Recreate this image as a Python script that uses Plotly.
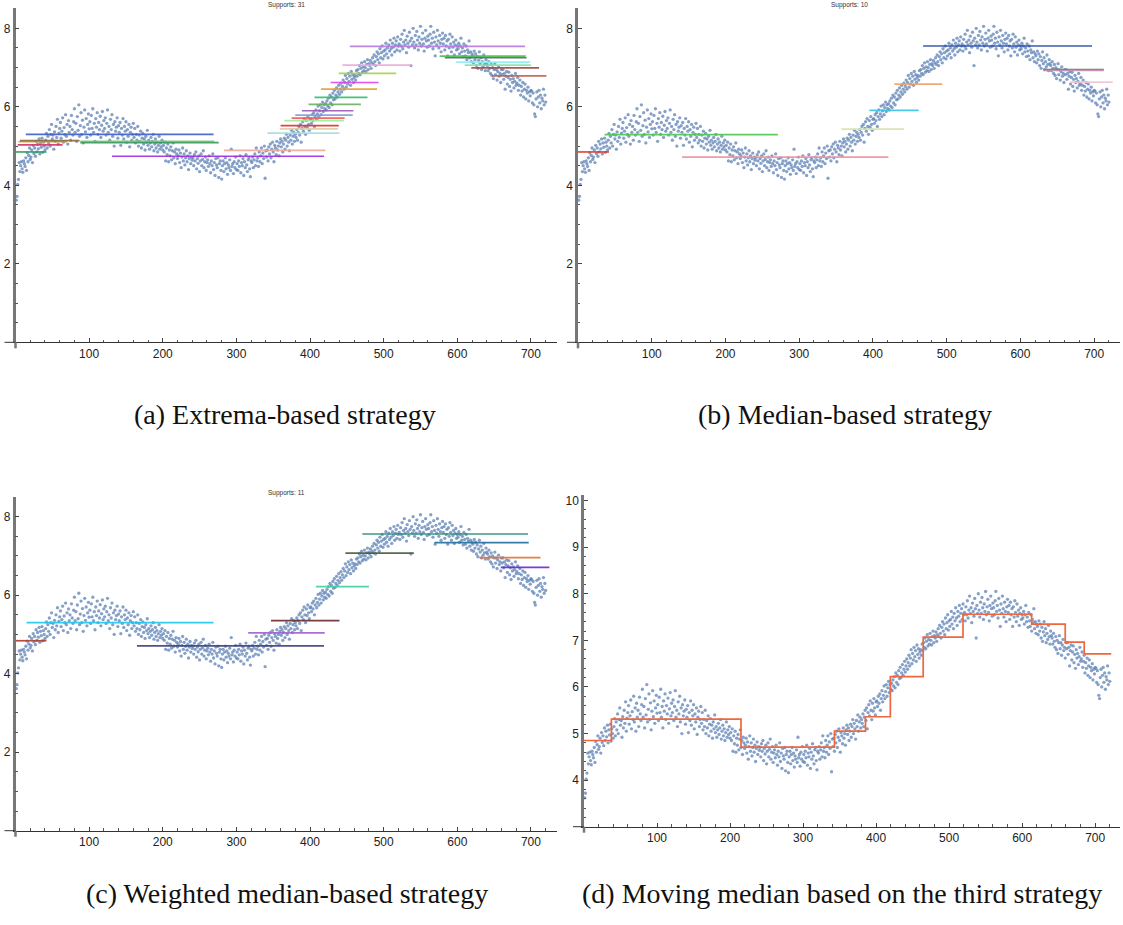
import plotly.graph_objects as go

# ---------------- data ----------------
x_vals = list(range(1, 721))
y_vals = [
 3.62, 3.72, 4.02, 4.15, 4.58, 4.35, 4.5, 4.6, 4.42, 4.33, 4.62, 4.55, 4.48, 4.7, 4.38, 4.83, 4.6, 4.76, 4.95, 4.66,
 4.72, 4.9, 4.58, 5.02, 4.81, 4.95, 4.74, 5.12, 4.85, 5.05, 4.93, 5.18, 4.8, 5.08, 4.97, 5.2, 4.84, 5.1, 5.0, 4.9,
 5.15, 5.32, 4.95, 5.25, 5.08, 5.42, 5.0, 5.3, 5.55, 5.18, 5.28, 4.92, 5.36, 5.12, 5.5, 5.22, 5.68, 5.05, 5.33, 5.45,
 5.6, 5.2, 5.38, 5.72, 5.1, 5.47, 5.3, 5.8, 5.25, 5.55, 5.05, 5.65, 5.35, 5.5, 5.15, 5.78, 5.42, 5.28, 5.62, 5.95,
 5.35, 5.58, 5.12, 5.75, 5.4, 6.05, 5.25, 5.52, 5.85, 5.3, 5.66, 5.08, 5.48, 5.92, 5.36, 5.7, 5.22, 5.55, 5.82, 5.44,
 5.62, 5.28, 5.78, 5.45, 5.95, 5.35, 5.58, 5.12, 5.7, 5.48, 5.85, 5.3, 5.6, 5.42, 5.76, 5.22, 5.53, 5.88, 5.38, 5.65,
 5.45, 5.72, 5.28, 5.58, 5.92, 5.35, 5.5, 5.15, 5.68, 5.42, 5.8, 5.25, 5.55, 5.0, 5.62, 5.38, 5.48, 5.72, 5.2, 5.52,
 5.35, 5.6, 5.02, 5.45, 5.28, 5.7, 5.18, 5.5, 5.38, 5.62, 5.1, 5.42, 5.25, 5.55, 4.98, 5.35, 5.48, 5.15, 5.3, 5.58,
 5.22, 5.45, 5.08, 5.3, 5.15, 5.5, 5.0, 5.28, 5.12, 5.38, 4.95, 5.2, 5.32, 5.05, 5.18, 4.9, 5.25, 5.1, 5.4, 5.02,
 5.15, 4.92, 5.08, 5.22, 4.98, 5.12, 5.3, 4.88, 5.05, 5.18, 4.95, 5.1, 4.85, 5.02, 5.25, 4.92, 5.08, 4.98, 5.15, 4.9,
 5.02, 4.85, 5.1, 4.62, 4.95, 4.78, 5.05, 4.6, 4.9, 4.75, 4.98, 4.65, 4.88, 5.08, 4.7, 4.85, 4.55, 4.92, 4.8, 4.68,
 4.75, 4.9, 4.58, 4.82, 4.45, 4.72, 4.95, 4.62, 4.8, 4.52, 4.7, 4.88, 4.6, 4.75, 4.4, 4.68, 4.82, 4.55, 4.72, 4.64,
 4.7, 4.5, 4.78, 4.62, 4.85, 4.42, 4.68, 4.56, 4.75, 4.35, 4.62, 4.8, 4.5, 4.66, 4.88, 4.45, 4.6, 4.72, 4.38, 4.58,
 4.65, 4.48, 4.75, 4.55, 4.32, 4.62, 4.5, 4.8, 4.4, 4.58, 4.25, 4.68, 4.52, 4.45, 4.7, 4.2, 4.55, 4.62, 4.38, 4.16,
 4.5, 4.62, 4.35, 4.55, 4.7, 4.42, 4.58, 4.28, 4.52, 4.45, 4.65, 4.38, 4.92, 4.48, 4.55, 4.3, 4.6, 4.45, 4.72, 4.4,
 4.55, 4.38, 4.62, 4.48, 4.75, 4.32, 4.58, 4.5, 4.68, 4.25, 4.6, 4.45, 4.78, 4.52, 4.35, 4.65, 4.7, 4.42, 4.22, 4.62,
 4.58, 4.72, 4.45, 4.65, 4.8, 4.5, 4.95, 4.62, 4.7, 4.48, 4.85, 4.6, 4.75, 4.95, 4.55, 4.82, 4.68, 5.0, 4.18, 4.88,
 4.72, 4.9, 4.62, 4.98, 4.8, 5.05, 4.7, 4.92, 5.1, 4.85, 4.6, 5.02, 4.95, 4.78, 5.12, 4.9, 5.0, 4.75, 5.08, 5.18,
 4.98, 5.12, 4.85, 5.05, 5.2, 4.92, 5.15, 5.3, 5.0, 5.22, 5.1, 4.88, 5.28, 5.15, 5.4, 5.05, 5.25, 5.35, 5.12, 5.3,
 5.22, 5.42, 5.15, 5.35, 5.5, 5.28, 5.55, 5.1, 5.45, 5.62, 5.38, 5.7, 5.5, 5.3, 5.65, 5.48, 5.75, 5.55, 5.4, 5.68,
 5.7, 5.58, 5.8, 5.65, 5.85, 5.5, 5.75, 5.92, 5.68, 5.82, 6.02, 5.75, 5.9, 6.05, 5.8, 5.98, 6.12, 5.88, 6.05, 5.95,
 6.08, 5.92, 6.15, 6.02, 6.22, 5.98, 6.3, 6.1, 6.25, 6.05, 6.35, 6.18, 6.42, 6.2, 6.3, 6.48, 6.25, 6.38, 6.55, 6.32,
 6.45, 6.6, 6.38, 6.52, 6.68, 6.45, 6.62, 6.8, 6.5, 6.72, 6.58, 6.85, 6.65, 6.78, 6.55, 6.9, 6.7, 6.82, 6.62, 6.75,
 6.8, 6.68, 6.92, 6.78, 6.95, 6.85, 7.05, 6.82, 6.98, 7.12, 6.88, 7.02, 6.92, 7.15, 7.0, 6.9, 7.08, 7.2, 6.95, 7.1,
 7.05, 7.18, 6.98, 7.12, 7.25, 7.08, 7.32, 7.15, 7.05, 7.28, 7.4, 7.2, 7.35, 7.12, 7.48, 7.25, 7.38, 7.55, 7.22, 7.42,
 7.3, 7.45, 7.62, 7.35, 7.5, 7.25, 7.58, 7.42, 7.7, 7.48, 7.32, 7.62, 7.52, 7.75, 7.4, 7.58, 7.68, 7.45, 7.78, 7.55,
 7.6, 7.42, 7.72, 7.55, 7.85, 7.48, 7.65, 7.95, 7.58, 7.7, 7.38, 7.8, 7.62, 7.52, 7.9, 7.68, 7.05, 7.75, 7.58, 8.0,
 7.65, 7.5, 7.82, 7.58, 7.92, 7.7, 7.45, 7.78, 7.62, 8.05, 7.55, 7.72, 7.88, 7.6, 7.42, 7.75, 7.95, 7.68, 7.52, 7.8,
 7.7, 7.55, 7.85, 8.05, 7.62, 7.75, 7.48, 7.9, 7.65, 7.3, 7.78, 7.58, 7.95, 7.68, 7.5, 7.82, 7.62, 7.4, 7.72, 7.88,
 7.6, 7.75, 7.45, 7.82, 7.55, 7.68, 7.3, 7.72, 7.5, 7.85, 7.6, 7.4, 7.78, 7.52, 7.65, 7.32, 7.58, 7.7, 7.45, 7.55,
 7.48, 7.62, 7.35, 7.55, 7.75, 7.4, 7.5, 7.28, 7.6, 7.42, 7.3, 7.55, 7.2, 7.45, 7.38, 7.68, 7.25, 7.4, 7.15, 7.35,
 7.3, 7.12, 7.42, 7.2, 7.35, 7.05, 7.28, 6.98, 7.18, 7.4, 7.1, 7.25, 6.95, 7.15, 7.02, 7.32, 7.08, 6.92, 7.2, 7.1,
 7.05, 6.92, 7.15, 6.98, 6.85, 7.08, 6.8, 7.0, 6.72, 6.95, 7.1, 6.82, 6.95, 6.68, 6.9, 7.02, 6.78, 6.85, 6.62, 6.95,
 6.82, 6.95, 6.7, 6.85, 6.45, 6.78, 6.9, 6.58, 6.75, 6.88, 6.52, 6.7, 6.4, 6.8, 6.62, 6.72, 6.48, 6.65, 6.85, 6.55,
 6.6, 6.75, 6.42, 6.55, 6.68, 6.3, 6.52, 6.4, 6.62, 6.25, 6.45, 6.58, 6.2, 6.42, 6.35, 6.5, 6.15, 6.38, 6.28, 6.42,
 6.4, 6.1, 6.35, 6.05, 5.82, 5.75, 6.2, 6.38, 6.0, 6.25, 6.42, 6.1, 6.3, 5.95, 6.22, 6.15, 6.45, 6.05, 6.3, 6.12,
]

# (a) extrema-based supports: start, end, level
seg_a_start = [0, 3, 4, 6, 14, 88, 88, 131, 283, 342, 359, 360, 365, 375, 380, 389, 398, 406, 415, 428,
               439, 444, 454, 576, 583, 598, 610, 619, 647]
seg_a_end = [42, 64, 70, 87, 269, 270, 276, 419, 421, 440, 438, 439, 446, 447, 458, 459, 469, 478, 491, 493,
             517, 538, 692, 693, 694, 699, 700, 711, 721]
seg_a_level = [4.85, 5.03, 5.11, 5.14, 5.30, 5.12, 5.09, 4.74, 4.89, 5.33, 5.44, 5.52, 5.65, 5.71, 5.79, 5.90,
               6.06, 6.24, 6.45, 6.62, 6.85, 7.06, 7.54, 7.29, 7.25, 7.14, 7.06, 6.99, 6.79]

# (b) median-based supports
seg_b_start = [0, 36, 141, 357, 395, 429, 468, 631, 631, 667]
seg_b_end = [42, 271, 421, 442, 462, 494, 697, 713, 713, 725]
seg_b_level = [4.85, 5.29, 4.72, 5.43, 5.91, 6.58, 7.55, 6.95, 6.93, 6.63]

# (c) weighted-median-based supports
seg_c_start = [0, 15, 165, 316, 347, 408, 448, 471, 569, 630, 659]
seg_c_end = [42, 269, 419, 420, 440, 480, 541, 696, 697, 713, 725]
seg_c_level = [4.84, 5.30, 4.71, 5.04, 5.35, 6.22, 7.07, 7.56, 7.34, 6.96, 6.71]

# (d) moving median step function
step_x = [0, 37.5, 215, 343, 385.5, 419.5, 464.5, 519, 613, 659, 685, 722]
step_y = [4.85, 5.31, 4.71, 5.05, 5.36, 6.22, 7.07, 7.56, 7.35, 6.96, 6.71, 6.71]

supports_text = ["Supports: 31", "Supports: 10", "Supports: 11"]
captions = ["(a) Extrema-based strategy", "(b) Median-based strategy",
            "(c) Weighted median-based strategy", "(d) Moving median based on the third strategy"]

# ---------------- styles ----------------
colors_a = ["#2E9E5B", "#D6336C", "#D8A040", "#8B6B35", "#3F5FC8", "#7BCB7B", "#3A9A5A", "#A22BE0",
            "#F0A898", "#A8DCDC", "#DCCCA8", "#E0302A", "#98F098", "#F05A5A", "#8A98D8", "#9A5AB8",
            "#6CB060", "#2CC06A", "#E0A030", "#E040F0", "#A8D048", "#F0A8D8", "#B878E0", "#48C048",
            "#506878", "#88F0F0", "#88E0A8", "#9C4A3E", "#C0604E"]
colors_b = ["#E03A2A", "#4CC84C", "#F0909C", "#D4E4A8", "#38C4E4", "#F0A060", "#2848A8", "#5E7030",
            "#C890C0", "#F0C4D4"]
colors_c = ["#B03A2E", "#1EC8F0", "#403F7A", "#A060D0", "#6B2A2A", "#40D0A0", "#4A5A3A", "#2E8B7A",
            "#2070A0", "#E87030", "#6A2AD0"]

W, H = 1123, 925
PT = "rgba(94,129,181,0.75)"

def fx(p):
    return p / W

def fy(p):
    return 1 - p / H

# panel geometry in pixels: x-domain (left,right), y-domain (top,bottom)
geo = [
    dict(xd=(15.5, 556.7), yd=(8.3, 342.3), xr=[0, 735], yr=[0, 8.51]),
    dict(xd=(578, 1120), yd=(8.3, 342.3), xr=[0, 735], yr=[0, 8.51]),
    dict(xd=(15.5, 556.7), yd=(496.7, 830.7), xr=[0, 735], yr=[0, 8.51]),
    dict(xd=(584, 1120), yd=(495, 826.7), xr=[0, 734], yr=[3, 10.12]),
]

fig = go.Figure()
tickfont = dict(family="Liberation Sans, Arial", size=12, color="#222")

layout = dict(width=W, height=H, margin=dict(l=0, r=0, t=0, b=0),
              paper_bgcolor="white", plot_bgcolor="white", showlegend=False)
shapes = []
annotations = []

for i, g in enumerate(geo):
    k = "" if i == 0 else str(i + 1)
    xa, ya = "x" + k, "y" + k
    if i < 3:
        ytv = [2, 4, 6, 8]
        ymin = 0.5
    else:
        ytv = [4, 5, 6, 7, 8, 9, 10]
        ymin = 0.2
    layout["xaxis" + k] = dict(
        domain=[fx(g["xd"][0]), fx(g["xd"][1])], range=g["xr"], anchor=ya,
        showline=True, linecolor="#333", linewidth=1, mirror=False,
        ticks="inside", ticklen=4, tickcolor="#444", tickwidth=1,
        tickvals=[100, 200, 300, 400, 500, 600, 700],
        minor=dict(dtick=20, tick0=0, ticks="inside", ticklen=2.5, tickcolor="#555"),
        showgrid=False, zeroline=False, tickfont=tickfont, automargin=False, fixedrange=True)
    layout["yaxis" + k] = dict(
        domain=[fy(g["yd"][1]), fy(g["yd"][0])], range=g["yr"], anchor=xa,
        showline=True, linecolor="#777777", linewidth=2.5, mirror=False,
        ticks="inside", ticklen=4, tickcolor="#444", tickwidth=1,
        tickvals=ytv,
        minor=dict(dtick=ymin, tick0=0, ticks="inside", ticklen=2.5, tickcolor="#555"),
        showgrid=False, zeroline=False, tickfont=tickfont, automargin=False, fixedrange=True)
    # axis overhangs (Mathematica-style crossing)
    shapes.append(dict(type="line", xref="paper", yref="paper",
                       x0=fx(g["xd"][0] - 11), x1=fx(g["xd"][0]),
                       y0=fy(g["yd"][1]), y1=fy(g["yd"][1]),
                       line=dict(color="#333", width=1)))
    shapes.append(dict(type="line", xref="paper", yref="paper",
                       x0=fx(g["xd"][0]), x1=fx(g["xd"][0]),
                       y0=fy(g["yd"][1]), y1=fy(g["yd"][1] + 6),
                       line=dict(color="#777777", width=2.5)))

    # scatter points
    fig.add_trace(go.Scatter(x=x_vals, y=y_vals, mode="markers", xaxis=xa, yaxis=ya,
                             marker=dict(size=3.3, color=PT, line=dict(width=0)),
                             hoverinfo="skip"))

    if i < 3:
        st, en, lv, cl = [(seg_a_start, seg_a_end, seg_a_level, colors_a),
                          (seg_b_start, seg_b_end, seg_b_level, colors_b),
                          (seg_c_start, seg_c_end, seg_c_level, colors_c)][i]
        for s, e, v, c in zip(st, en, lv, cl):
            fig.add_trace(go.Scatter(x=[s, e], y=[v, v], mode="lines", xaxis=xa, yaxis=ya,
                                     line=dict(color=c, width=1.7), opacity=0.9,
                                     hoverinfo="skip"))
        annotations.append(dict(text=supports_text[i], xref="paper", yref="paper",
                                x=fx((g["xd"][0] + g["xd"][1]) / 2), y=fy(g["yd"][0] - 3.5),
                                xanchor="center", yanchor="middle", showarrow=False,
                                font=dict(family="Liberation Sans, Arial", size=6.5, color="#333")))
    else:
        fig.add_trace(go.Scatter(x=step_x, y=step_y, mode="lines", line_shape="hv",
                                 xaxis=xa, yaxis=ya,
                                 line=dict(color="#F0663E", width=1.7), hoverinfo="skip"))

cap_pos = [(285, 414), (845, 414), (287, 893), (842, 893)]
for (cx, cy), txt in zip(cap_pos, captions):
    annotations.append(dict(text=txt, xref="paper", yref="paper", x=fx(cx), y=fy(cy),
                            xanchor="center", yanchor="middle", showarrow=False,
                            font=dict(family="Liberation Serif, Times New Roman, serif",
                                      size=28, color="#111")))

layout["shapes"] = shapes
layout["annotations"] = annotations
fig.update_layout(**layout)
fig.write_html("out.html")
